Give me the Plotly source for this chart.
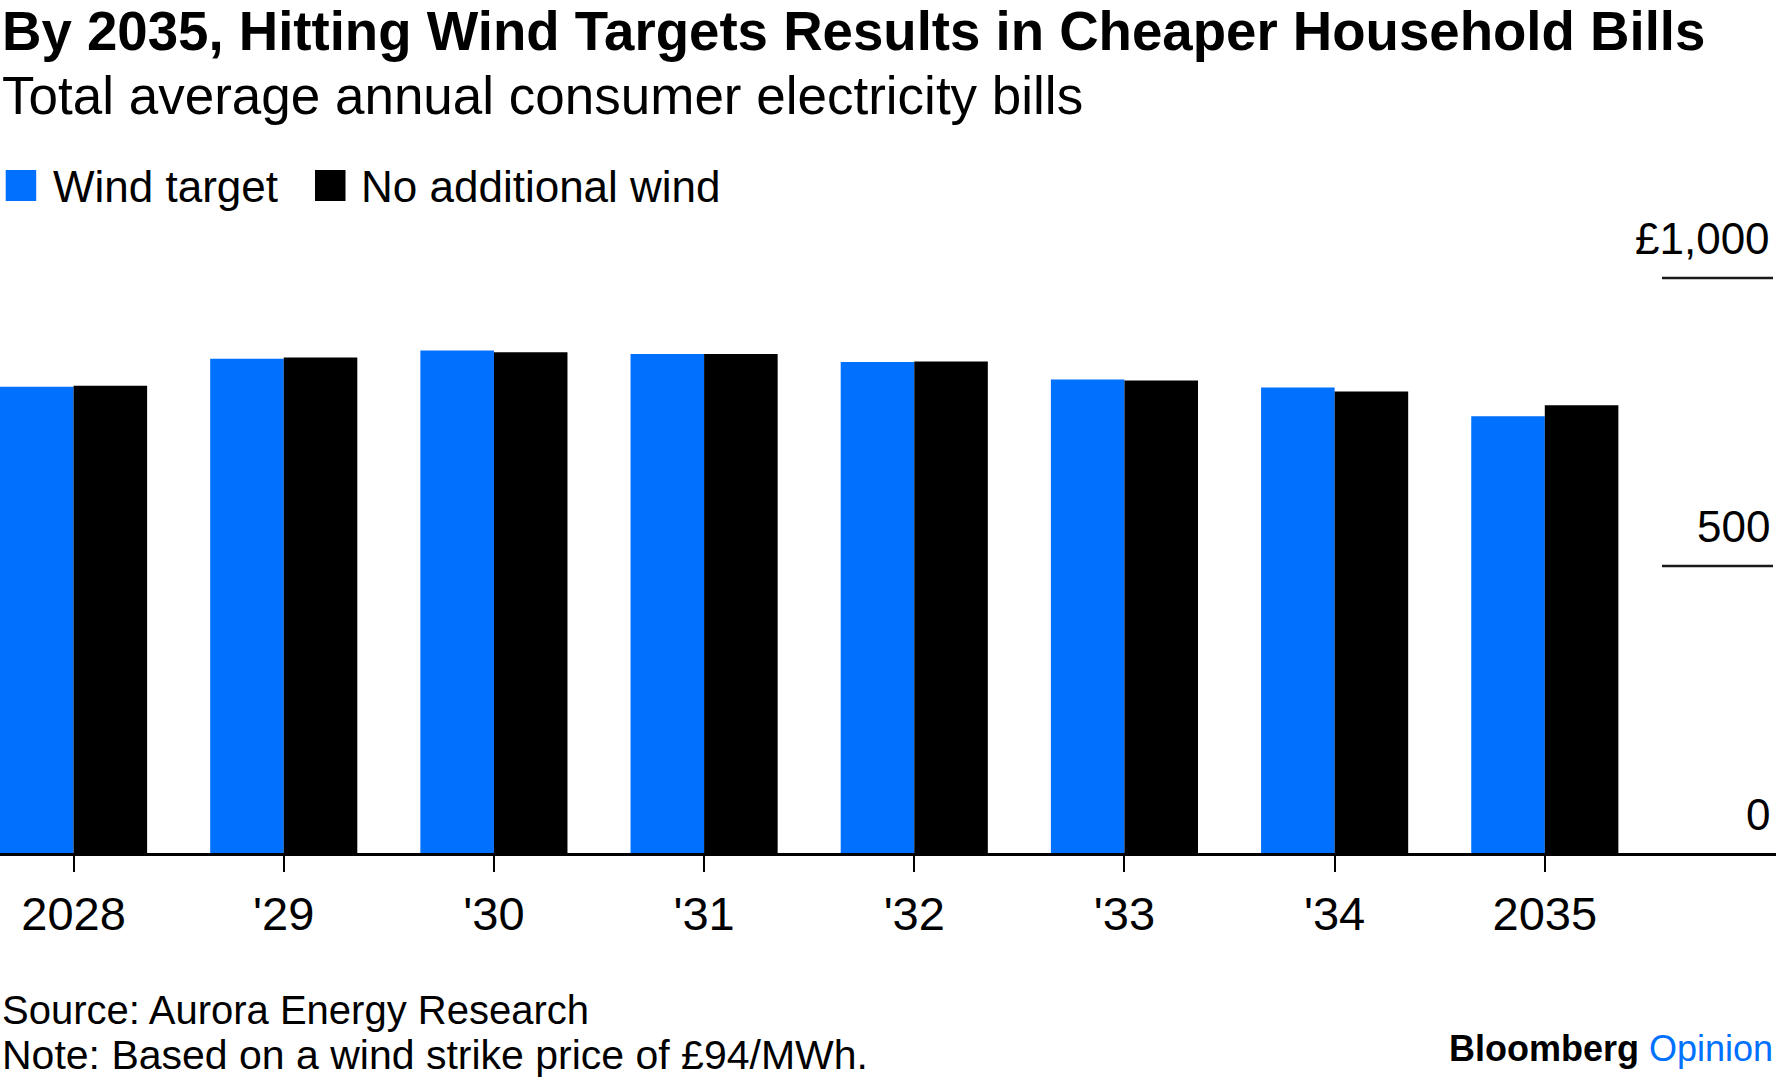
import plotly.graph_objects as go

# ---- data ----
years = ["2028", "'29", "'30", "'31", "'32", "'33", "'34", "2035"]
wind_target = [811, 860, 874, 868, 854, 824, 810, 760]
no_additional_wind = [813, 862, 871, 868, 855, 822, 803, 779]
y_tick_values = [0, 500, 1000]
y_tick_labels = ["0", "500", "£1,000"]
series_names = ["Wind target", "No additional wind"]

BLUE = "#0070FF"
BLACK = "#000000"
FONT = "Liberation Sans, Arial, sans-serif"
W, H = 1776, 1077

# pixel geometry (figure pixels)
ZERO_PX = 854
TOP_PX = 278  # where 1000 sits
per_px = 1000 / (ZERO_PX - TOP_PX)
y_top = ZERO_PX * per_px
y_bot = -(H - ZERO_PX) * per_px


def py(px):
    return 1 - px / H


fig = go.Figure()
fig.add_bar(x=years, y=wind_target, name=series_names[0],
            marker=dict(color=BLUE, line=dict(width=0)))
fig.add_bar(x=years, y=no_additional_wind, name=series_names[1],
            marker=dict(color=BLACK, line=dict(width=0)))

annotations = []
shapes = []

# title / subtitle
annotations.append(dict(text="<b>By 2035, Hitting Wind Targets Results in Cheaper Household Bills</b>",
                        xref="paper", yref="paper", x=0, y=py(32), xanchor="left", yanchor="middle",
                        showarrow=False, font=dict(size=54.6, color=BLACK, family=FONT)))
annotations.append(dict(text="Total average annual consumer electricity bills",
                        xref="paper", yref="paper", x=0, y=py(96), xanchor="left", yanchor="middle",
                        showarrow=False, font=dict(size=53, color=BLACK, family=FONT)))

# custom legend
legend_items = [(series_names[0], BLUE, 5.7, 51), (series_names[1], BLACK, 315, 359)]
for name, col, sq_x, tx in legend_items:
    shapes.append(dict(type="rect", xref="paper", yref="paper",
                       x0=sq_x / W, x1=(sq_x + 30.5) / W, y0=py(201), y1=py(170),
                       fillcolor=col, line=dict(width=0)))
    annotations.append(dict(text=name, xref="paper", yref="paper", x=tx / W, y=py(187),
                            xanchor="left", yanchor="middle", showarrow=False,
                            font=dict(size=44, color=BLACK, family=FONT)))

# right-side y labels and short grid segments
for v, lab in zip(y_tick_values, y_tick_labels):
    annotations.append(dict(text=lab, xref="paper", yref="y", x=1772 / W, y=v, yshift=40,
                            xanchor="right", yanchor="middle", showarrow=False,
                            font=dict(size=44, color=BLACK, family=FONT)))
    if v != 0:
        shapes.append(dict(type="line", xref="paper", yref="y", x0=1662 / W, x1=1773 / W,
                           y0=v, y1=v, line=dict(color="#1a1a1a", width=2.5)))

# footer
annotations.append(dict(text="Source: Aurora Energy Research", xref="paper", yref="paper",
                        x=0, y=py(1010), xanchor="left", yanchor="middle", showarrow=False,
                        font=dict(size=40, color=BLACK, family=FONT)))
annotations.append(dict(text="Note: Based on a wind strike price of £94/MWh.", xref="paper", yref="paper",
                        x=0, y=py(1055), xanchor="left", yanchor="middle", showarrow=False,
                        font=dict(size=41, color=BLACK, family=FONT)))
annotations.append(dict(text="<b>Bloomberg</b> <span style='color:" + BLUE + "'>Opinion</span>",
                        xref="paper", yref="paper", x=1775 / W, y=py(1048), xanchor="right",
                        yanchor="middle", showarrow=False,
                        font=dict(size=36, color=BLACK, family=FONT)))

fig.update_layout(
    width=W, height=H, autosize=False,
    margin=dict(l=0, r=0, t=0, b=0, pad=0),
    paper_bgcolor="white", plot_bgcolor="white",
    barmode="group", bargap=0.3, bargroupgap=0,
    showlegend=False,
    font=dict(family=FONT, color=BLACK),
    annotations=annotations, shapes=shapes,
    xaxis=dict(type="category", range=[-0.35, 8.10], anchor="free", position=(H - ZERO_PX) / H,
               showline=True, linecolor=BLACK, linewidth=2.5,
               ticks="outside", ticklen=16, tickwidth=2, tickcolor=BLACK,
               tickfont=dict(size=47, color=BLACK, family=FONT), ticklabelstandoff=2,
               showgrid=False, zeroline=False, fixedrange=True),
    yaxis=dict(range=[y_bot, y_top], visible=False, showgrid=False, zeroline=False, fixedrange=True),
)

fig.write_html("out.html", config={"displayModeBar": False},
               post_script="document.body.style.margin='0';document.body.style.overflow='hidden';")
